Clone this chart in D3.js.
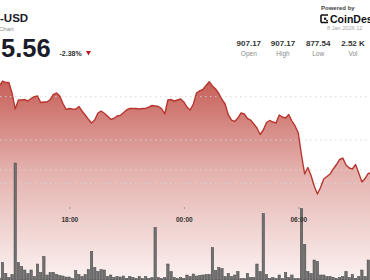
<!DOCTYPE html>
<html><head><meta charset="utf-8">
<script src="https://cdn.jsdelivr.net/npm/d3@7"></script>
<style>
html,body{margin:0;padding:0;background:#fff;overflow:hidden;}
svg{display:block;font-family:"Liberation Sans",Arial,sans-serif;}
</style></head>
<body>
<svg id="c" width="370" height="280"></svg>
<script>
// ---- data ----
const startTime = new Date(2026, 0, 7, 14, 20); // first 10-minute candle
const stepMinutes = 10;
const prices = [
 902.47,903.62,903.28,903.28,900.85,897.16,899.24,899.24,899.35,899.01,
 899.58,900.00,900.16,898.66,898.78,898.78,899.35,900.51,900.85,900.16,
 898.43,897.09,897.28,897.16,897.12,897.74,896.70,895.78,894.78,893.93,
 894.62,896.24,896.70,896.17,895.55,894.78,894.97,895.55,895.66,896.31,
 896.93,897.28,897.28,897.28,897.16,897.28,897.28,897.62,897.97,897.85,
 897.74,897.28,896.01,899.24,899.35,899.01,899.24,899.47,898.78,897.62,
 896.93,898.32,900.85,901.36,901.66,902.58,903.46,902.47,901.78,900.74,
 899.35,898.32,895.78,894.62,894.28,895.08,896.24,896.01,894.97,894.62,
 893.70,892.78,891.28,892.32,894.05,894.51,894.16,893.93,895.78,895.32,
 895.08,895.89,894.39,893.24,891.62,886.55,882.16,883.66,881.82,879.39,
 877.54,879.05,881.01,881.58,882.16,883.32,884.35,885.51,885.85,884.24,
 883.55,883.32,884.35,882.39,880.31,881.12,882.28,882.51
];
const volumes = [
 4,35,13,5,11,234,35,27,20,13,
 20,7,32,15,47,10,15,15,11,9,
 8,6,6,3,19,11,7,11,21,57,
 25,17,21,20,7,10,5,7,6,8,
 3,7,5,3,7,3,7,3,5,105,
 5,3,5,32,17,5,3,5,3,10,
 7,12,8,9,10,11,11,65,19,25,
 23,7,13,7,10,17,3,3,13,5,
 5,32,17,133,11,3,5,3,10,3,
 15,5,10,3,3,143,71,17,13,40,
 37,10,10,7,7,5,3,5,7,17,
 5,11,3,7,20,7,40,6
];
const priceGrid = [870, 880, 890, 900];
const volGrid = [110, 220];
const tickTimes = [new Date(2026,0,7,18,0), new Date(2026,0,8,0,0), new Date(2026,0,8,6,0)];
const title = "-USD";
const subtitle = "Chart";
const lastPrice = "5.56";
const change = "-2.38%";
const statValues = ["907.17", "907.17", "877.54", "2.52 K"];
const statLabels = ["Open", "High", "Low", "Vol"];
const dateText = "8 Jan 2026 12";

// ---- build ----
const data = prices.map((p, i) => ({
  t: d3.timeMinute.offset(startTime, stepMinutes * i),
  p: p, v: volumes[i]
}));

const svg = d3.select("#c");
const W = 370, H = 280;

const x = d3.scaleTime()
  .domain([tickTimes[0], tickTimes[2]])
  .range([69.3, 298.3]);
const y = d3.scaleLinear().domain([870, 900]).range([226.7, 96.7]);
const yv = d3.scaleLinear().domain([0, 220]).range([280, 170]);

const defs = svg.append("defs");
const grad = defs.append("linearGradient").attr("id", "g")
  .attr("gradientUnits", "userSpaceOnUse")
  .attr("x1", 0).attr("x2", 0).attr("y1", 80).attr("y2", 280);
grad.append("stop").attr("offset", 0).attr("stop-color", "#c65f58");
grad.append("stop").attr("offset", 0.45).attr("stop-color", "#e4b1ad");
grad.append("stop").attr("offset", 1).attr("stop-color", "#fbf2f1");

// area
const area = d3.area().x(d => x(d.t)).y0(H).y1(d => y(d.p));
svg.append("path").datum(data).attr("d", area).attr("fill", "url(#g)");

// gridlines
svg.append("g").selectAll("line").data(priceGrid).join("line")
  .attr("x1", 0).attr("x2", W)
  .attr("y1", d => y(d)).attr("y2", d => y(d))
  .attr("stroke", "#d6d6d6").attr("stroke-width", 1)
  .attr("stroke-dasharray", "1.5,3.5").attr("opacity", 0.9);
svg.append("g").selectAll("line").data(volGrid).join("line")
  .attr("x1", 0).attr("x2", W)
  .attr("y1", d => yv(d)).attr("y2", d => yv(d))
  .attr("stroke", "#dcdcdc").attr("stroke-width", 1)
  .attr("stroke-dasharray", "1.5,3.5").attr("opacity", 0.8);

// volume bars
svg.append("g").selectAll("rect").data(data).join("rect")
  .attr("x", d => x(d.t) - 1.2)
  .attr("width", 2.4)
  .attr("y", d => yv(d.v))
  .attr("height", d => H - yv(d.v))
  .attr("fill", "#707070")
  .attr("stroke", "#474747").attr("stroke-width", 0.5);

// price line
const line = d3.line().x(d => x(d.t)).y(d => y(d.p));
svg.append("path").datum(data).attr("d", line)
  .attr("fill", "none").attr("stroke", "#b8362f")
  .attr("stroke-width", 1.4).attr("stroke-linejoin", "round");

// time axis
const ax = svg.append("g").attr("transform", "translate(0,207)")
  .call(d3.axisBottom(x).tickValues(tickTimes).tickSize(2).tickPadding(8)
    .tickFormat(d3.timeFormat("%H:%M")));
ax.select(".domain").remove();
ax.selectAll("line").attr("stroke", "#9a9a9a");
ax.selectAll("text").attr("font-size", 6.5).attr("font-weight", "bold")
  .attr("fill", "#333").attr("font-family", "Liberation Sans, Arial, sans-serif");

// header left
svg.append("text").attr("x", 0).attr("y", 21.7).text(title)
  .attr("font-size", 11.5).attr("font-weight", "bold").attr("fill", "#1b1b2a");
svg.append("text").attr("x", -1).attr("y", 30.5).text(subtitle)
  .attr("font-size", 6).attr("fill", "#8a8a8a");
svg.append("text").attr("x", 1).attr("y", 56.7).text(lastPrice)
  .attr("font-size", 25.5).attr("font-weight", "bold").attr("fill", "#1b1b2a");
svg.append("text").attr("x", 59.5).attr("y", 56).text(change)
  .attr("font-size", 7).attr("font-weight", "bold").attr("fill", "#333");
svg.append("path").attr("d", "M86,51 L91,51 L88.5,55.5 Z").attr("fill", "#c0161e");

// header right
svg.append("text").attr("x", 321).attr("y", 9.5).text("Powered by")
  .attr("font-size", 6).attr("font-weight", "bold").attr("fill", "#444");
const logo = svg.append("g").attr("transform", "translate(321,15)");
logo.append("path").attr("d", "M0,0 H7 M0,0 V7.5 M0,7.5 H7")
  .attr("stroke", "#111").attr("stroke-width", 1.6).attr("fill", "none");
logo.append("rect").attr("x", 3).attr("y", 2.6).attr("width", 2.2).attr("height", 2.2).attr("fill", "#111");
logo.append("rect").attr("x", 5.2).attr("y", 4.8).attr("width", 1.6).attr("height", 1.6).attr("fill", "#111");
svg.append("text").attr("x", 330).attr("y", 22.7).text("CoinDesk")
  .attr("font-size", 10.5).attr("font-weight", "bold").attr("fill", "#111");
svg.append("text").attr("x", 327).attr("y", 29.5).text(dateText)
  .attr("font-size", 5.6).attr("fill", "#a8a8a8");

const statX = [248.8, 283, 318.2, 353];
svg.append("g").selectAll("text").data(statValues).join("text")
  .attr("x", (d, i) => statX[i]).attr("y", 45.7).attr("text-anchor", "middle")
  .attr("font-size", 8).attr("font-weight", "bold").attr("fill", "#333").text(d => d);
svg.append("g").selectAll("text").data(statLabels).join("text")
  .attr("x", (d, i) => statX[i]).attr("y", 55.5).attr("text-anchor", "middle")
  .attr("font-size", 6.5).attr("fill", "#8a8a8a").text(d => d);
</script>
</body></html>
